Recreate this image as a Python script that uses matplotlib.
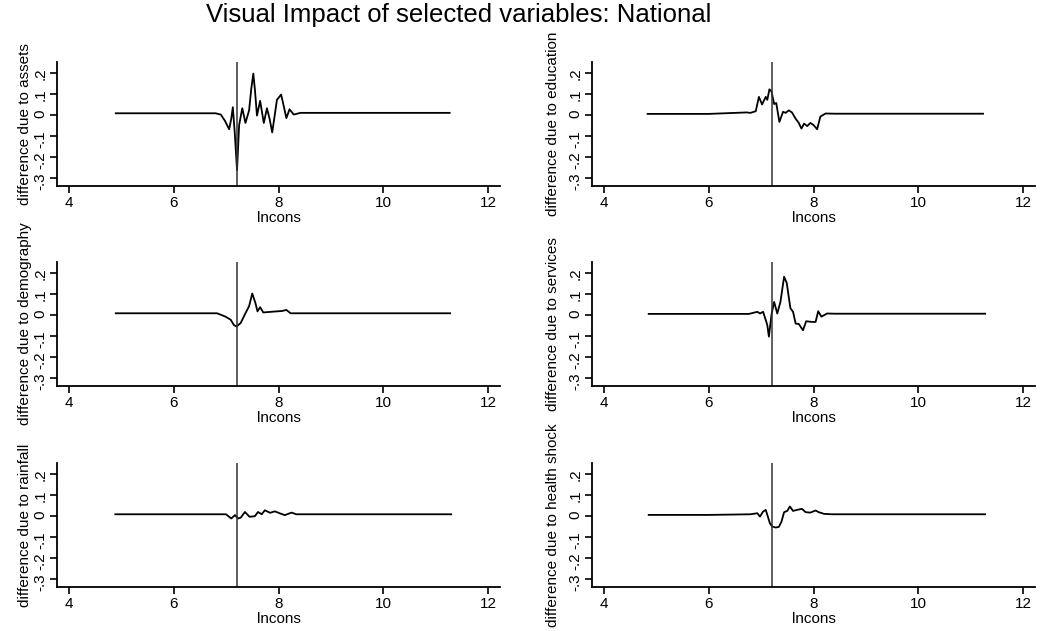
import matplotlib
matplotlib.use('Agg')
import matplotlib.pyplot as plt

plt.rcParams['font.family'] = ['Liberation Sans', 'DejaVu Sans']

# values (lncons, difference)
assets_x = [4.9, 6.0, 6.8, 6.9, 6.98, 7.06, 7.1, 7.13, 7.17, 7.21, 7.25, 7.31, 7.37, 7.44, 7.48,
            7.52, 7.55, 7.59, 7.65, 7.72, 7.78, 7.83, 7.88, 7.93, 7.97, 8.05, 8.1, 8.15, 8.21,
            8.29, 8.42, 9.5, 11.26]
assets_y = [0.006, 0.006, 0.006, 0.0, -0.03, -0.07, -0.02, 0.035, -0.1, -0.265, -0.05, 0.03, -0.04,
            0.02, 0.12, 0.195, 0.12, -0.005, 0.065, -0.04, 0.03, -0.02, -0.085, 0.0, 0.07, 0.095,
            0.04, -0.017, 0.025, 0.0, 0.008, 0.008, 0.008]

edu_x = [4.84, 6.0, 6.72, 6.8, 6.9, 6.96, 7.02, 7.09, 7.12, 7.16, 7.2, 7.25, 7.29, 7.35, 7.42,
         7.47, 7.53, 7.59, 7.66, 7.72, 7.77, 7.82, 7.88, 7.94, 8.0, 8.07, 8.13, 8.23, 8.4, 11.23]
edu_y = [0.003, 0.003, 0.01, 0.008, 0.016, 0.084, 0.048, 0.084, 0.07, 0.12, 0.11, 0.05, 0.055,
         -0.035, 0.013, 0.008, 0.02, 0.01, -0.02, -0.04, -0.067, -0.043, -0.055, -0.04, -0.05,
         -0.07, -0.01, 0.005, 0.004, 0.004]

demo_x = [4.9, 6.0, 6.83, 6.99, 7.09, 7.15, 7.2, 7.28, 7.37, 7.44, 7.5, 7.56, 7.6, 7.65, 7.71,
          7.91, 8.07, 8.15, 8.23, 9.5, 11.27]
demo_y = [0.006, 0.006, 0.006, -0.01, -0.025, -0.05, -0.057, -0.04, 0.006, 0.04, 0.1, 0.055,
          0.015, 0.035, 0.01, 0.014, 0.017, 0.022, 0.006, 0.006, 0.006]

serv_x = [4.86, 6.0, 6.77, 6.93, 6.98, 7.04, 7.12, 7.15, 7.2, 7.25, 7.31, 7.37, 7.44, 7.49, 7.56,
          7.61, 7.66, 7.72, 7.8, 7.86, 7.97, 8.04, 8.09, 8.15, 8.26, 8.4, 11.27]
serv_y = [0.003, 0.003, 0.003, 0.013, 0.005, 0.013, -0.05, -0.105, 0.0, 0.06, 0.005, 0.06, 0.18,
          0.15, 0.03, 0.013, -0.043, -0.045, -0.075, -0.032, -0.035, -0.035, 0.016, -0.01, 0.005,
          0.004, 0.004]

rain_x = [4.89, 6.0, 7.0, 7.1, 7.17, 7.23, 7.28, 7.36, 7.45, 7.55, 7.61, 7.68, 7.74, 7.84, 7.93,
          8.03, 8.12, 8.25, 8.34, 9.5, 11.29]
rain_y = [0.006, 0.006, 0.006, -0.014, 0.002, -0.014, -0.01, 0.017, -0.006, -0.003, 0.017, 0.006,
          0.025, 0.013, 0.02, 0.01, 0.002, 0.014, 0.006, 0.006, 0.006]

health_x = [4.86, 6.0, 6.8, 6.93, 6.98, 7.04, 7.09, 7.13, 7.17, 7.21, 7.28, 7.34, 7.39, 7.44, 7.5,
            7.55, 7.61, 7.69, 7.78, 7.85, 7.94, 8.04, 8.1, 8.2, 8.35, 11.27]
health_y = [0.003, 0.003, 0.006, 0.011, -0.005, 0.019, 0.027, -0.005, -0.037, -0.052, -0.057,
            -0.054, -0.029, 0.016, 0.022, 0.043, 0.022, 0.027, 0.032, 0.016, 0.014, 0.024, 0.016,
            0.008, 0.006, 0.006]

ylabels = ['difference due to assets', 'difference due to education',
           'difference due to demography', 'difference due to services',
           'difference due to rainfall', 'difference due to health shock']
series = [(assets_x, assets_y), (edu_x, edu_y), (demo_x, demo_y),
          (serv_x, serv_y), (rain_x, rain_y), (health_x, health_y)]

cutoff = 7.2
yticks = [-0.3, -0.2, -0.1, 0, 0.1, 0.2]
ytick_labels = ['-.3', '-.2', '-.1', '0', '.1', '.2']
xticks = [4, 6, 8, 10, 12]

fig = plt.figure(figsize=(10.42, 6.31), dpi=100)

lefts = [57 / 1042, 592 / 1042]
bottoms = [445 / 631, 245 / 631, 44 / 631]
w = 443 / 1042
h = 124 / 631

for i, ((x, y), lab) in enumerate(zip(series, ylabels)):
    ax = fig.add_axes([lefts[i % 2], bottoms[i // 2], w, h])
    ax.plot(x, y, color='black', lw=1.3)
    ax.axvline(cutoff, color='#333333', lw=1.1)
    ax.set_xlim(3.78, 12.22)
    ax.set_ylim(-0.34, 0.25)
    ax.set_xticks(xticks)
    ax.set_yticks(yticks)
    ax.set_yticklabels(ytick_labels)
    ax.tick_params(axis='y', labelrotation=90, length=5, width=1.2, pad=2, labelsize=11)
    ax.tick_params(axis='x', length=5, width=1.2, pad=2, labelsize=11)
    for s in ['top', 'right']:
        ax.spines[s].set_visible(False)
    for s in ['left', 'bottom']:
        ax.spines[s].set_linewidth(1.3)
    ax.set_ylabel(lab, fontsize=11, labelpad=1 if i % 2 == 0 else 6)
    ax.set_xlabel('lncons', fontsize=11, labelpad=1)

fig.text(459 / 1042, 1 - 3 / 631, 'Visual Impact of selected variables: National',
         ha='center', va='top', fontsize=18.5)

fig.savefig('out.png', dpi=100)
